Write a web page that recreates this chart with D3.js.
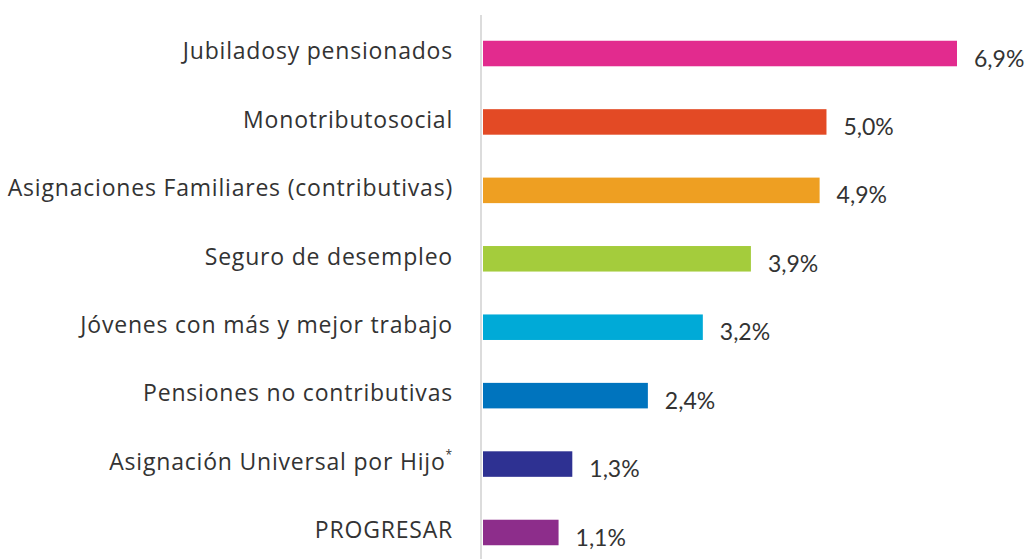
<!DOCTYPE html>
<html>
<head>
<meta charset="utf-8">
<script src="https://cdn.jsdelivr.net/npm/d3@7"></script>
<style>
  body { margin: 0; background: #fff; }
  svg text { font-family: Lato, "Noto Sans", sans-serif; fill: #333; }
  svg .cat text { font-family: "Open Sans", Lato, sans-serif; letter-spacing: 0.8px; }
</style>
</head>
<body>
<svg id="chart" width="1030" height="559"></svg>
<script>
// data
var categories = [
  "Jubiladosy pensionados",
  "Monotributosocial",
  "Asignaciones Familiares (contributivas)",
  "Seguro de desempleo",
  "Jóvenes con más y mejor trabajo",
  "Pensiones no contributivas",
  "Asignación Universal por Hijo",
  "PROGRESAR"
];
var values = [6.9, 5.0, 4.9, 3.9, 3.2, 2.4, 1.3, 1.1];
var valueLabels = ["6,9%", "5,0%", "4,9%", "3,9%", "3,2%", "2,4%", "1,3%", "1,1%"];
var colors = ["#e22b8e", "#e34a25", "#ee9f22", "#a4cc3c", "#00aad7", "#0074be", "#2e3192", "#8d2d8b"];

var svg = d3.select("#chart");

// scales
var x = d3.scaleLinear().domain([0, 6.9]).range([483, 957]);
var y = d3.scaleBand().domain(categories)
    .range([19.3, 566.7])
    .paddingInner(0.627)
    .paddingOuter(0.3135);

// vertical baseline
svg.append("line")
    .attr("x1", 481).attr("x2", 481)
    .attr("y1", 15).attr("y2", 559)
    .attr("stroke", "#dcdcdc")
    .attr("stroke-width", 2);

// category labels via axis
var yAxis = svg.append("g")
    .attr("class", "cat")
    .attr("transform", "translate(481,0)")
    .call(d3.axisLeft(y).tickSize(0).tickPadding(28));
yAxis.select(".domain").remove();
yAxis.selectAll("text")
    .attr("font-size", 23)
    .attr("font-family", null)
    .attr("dy", "0.25em");

// little asterisk after AUH
yAxis.selectAll("text")
    .filter(function(d) { return d == "Asignación Universal por Hijo"; })
    .append("tspan")
    .attr("font-size", 12)
    .attr("dy", "-0.9em")
    .text("*");

// bars
svg.selectAll("rect.bar")
    .data(categories)
  .enter().append("rect")
    .attr("class", "bar")
    .attr("x", x(0))
    .attr("y", function(d) { return y(d); })
    .attr("width", function(d, i) { return x(values[i]) - x(0); })
    .attr("height", y.bandwidth())
    .attr("fill", function(d, i) { return colors[i]; });

// value labels
svg.selectAll("text.val")
    .data(categories)
  .enter().append("text")
    .attr("class", "val")
    .attr("x", function(d, i) { return x(values[i]) + 17; })
    .attr("y", function(d) { return y(d) + y.bandwidth() / 2 + 5; })
    .attr("dy", "0.35em")
    .attr("font-size", 23)
    .text(function(d, i) { return valueLabels[i]; });
</script>
</body>
</html>
